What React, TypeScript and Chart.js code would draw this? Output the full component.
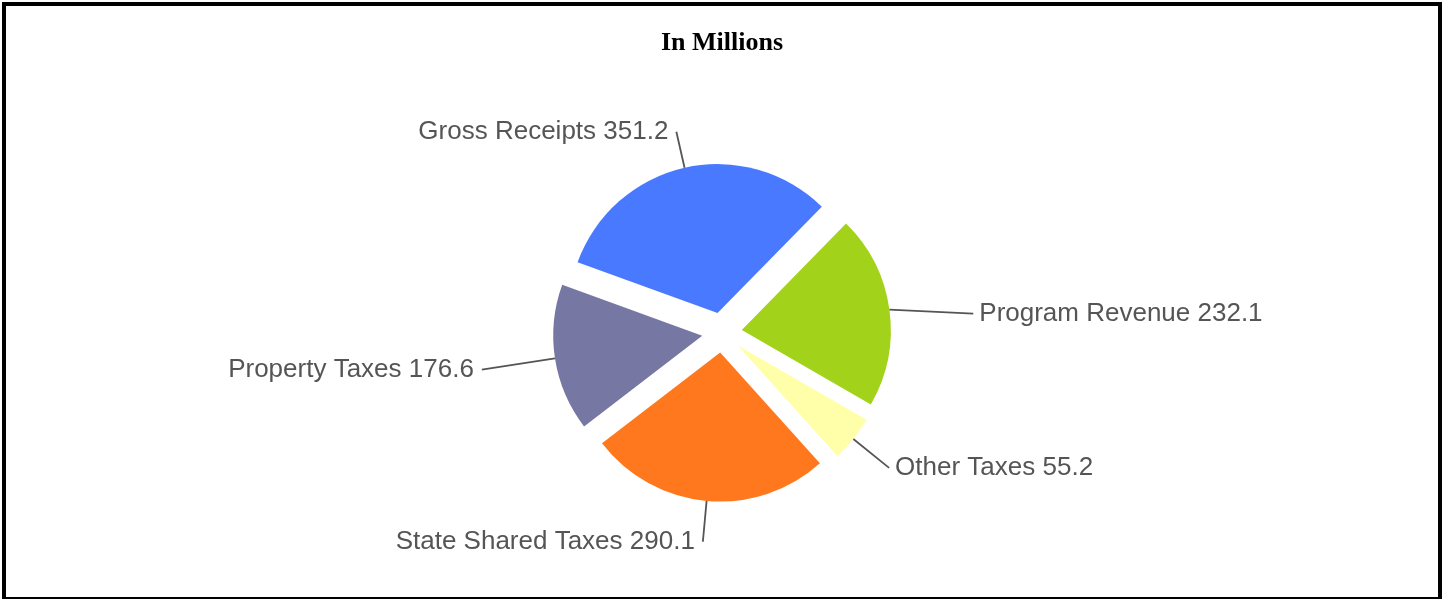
import { useEffect, useRef } from "react";
import { Chart, ArcElement, PieController, Title } from "chart.js";

const TITLE = "In Millions";
const CATEGORIES = ["Gross Receipts", "Program Revenue", "Other Taxes", "State Shared Taxes", "Property Taxes"];
const VALUES = [351.2, 232.1, 55.2, 290.1, 176.6];
const COLORS = ["#4979FF", "#A3D21A", "#FFFFAA", "#FF781D", "#7777A3"];
// label layout settings: leader line length beyond the slice edge (px) and angular shift (deg)
const LEADER_LENGTHS = [37, 83, 46, 41, 74];
const LEADER_SHIFTS = [0, 3.5, 0, 0, 0];
const EXPLODE = 20;

Chart.register(PieController, ArcElement, Title);

const proto: any = ArcElement.prototype;
if (!proto.__exploded) {
  proto.__exploded = true;
  const baseDraw = proto.draw;
  proto.draw = function (ctx: CanvasRenderingContext2D) {
    const half = (this.startAngle + this.endAngle) / 2;
    ctx.save();
    ctx.translate(Math.cos(half) * EXPLODE, Math.sin(half) * EXPLODE);
    baseDraw.call(this, ctx);
    ctx.restore();
  };
}

const leaderLabels = {
  id: "leaderLabels",
  afterDatasetsDraw(chart: any) {
    const ctx: CanvasRenderingContext2D = chart.ctx;
    const meta = chart.getDatasetMeta(0);
    ctx.save();
    ctx.font = '26px "Liberation Sans", Arial, sans-serif';
    ctx.textBaseline = "middle";
    meta.data.forEach((el: any, i: number) => {
      const mid = (el.startAngle + el.endAngle) / 2;
      const endAng = mid + (LEADER_SHIFTS[i] * Math.PI) / 180;
      const r0 = el.outerRadius + EXPLODE;
      const r1 = r0 + LEADER_LENGTHS[i];
      const sx = el.x + Math.cos(mid) * r0;
      const sy = el.y + Math.sin(mid) * r0;
      const ex = el.x + Math.cos(endAng) * r1;
      const ey = el.y + Math.sin(endAng) * r1;
      ctx.strokeStyle = "#555555";
      ctx.lineWidth = 1.8;
      ctx.beginPath();
      ctx.moveTo(sx, sy);
      ctx.lineTo(ex, ey);
      ctx.stroke();
      const text = `${CATEGORIES[i]} ${VALUES[i].toFixed(1)}`;
      ctx.fillStyle = "#555555";
      if (ex < el.x) {
        ctx.textAlign = "right";
        ctx.fillText(text, ex - 8, ey);
      } else {
        ctx.textAlign = "left";
        ctx.fillText(text, ex + 6, ey);
      }
    });
    ctx.restore();
  },
};

export default function App() {
  const ref = useRef<HTMLCanvasElement | null>(null);
  useEffect(() => {
    if (!ref.current) return;
    const chart = new Chart(ref.current, {
      type: "pie",
      data: {
        labels: CATEGORIES,
        datasets: [
          {
            data: VALUES,
            backgroundColor: COLORS,
            borderWidth: 0,
            radius: 149,
          } as any,
        ],
      },
      options: {
        animation: false,
        responsive: false,
        maintainAspectRatio: false,
        rotation: -70,
        layout: { padding: { left: 0, right: 1, top: 0, bottom: 0 } },
        plugins: {
          legend: { display: false },
          tooltip: { enabled: false },
          title: {
            display: true,
            text: TITLE,
            color: "#000",
            font: { family: '"Liberation Serif", "Times New Roman", serif', size: 26, weight: "bold" },
            padding: { top: 28, bottom: 7 },
          },
        },
      } as any,
      plugins: [leaderLabels],
    });
    return () => chart.destroy();
  }, []);
  return (
    <div style={{ position: "fixed", left: 0, top: 0, width: 1445, height: 599, background: "#fff" }}>
      <canvas ref={ref} width={1445} height={599} style={{ position: "absolute", left: 0, top: 0, width: 1445, height: 599 }} />
      <div
        style={{
          position: "absolute",
          left: 2,
          top: 2,
          width: 1440,
          height: 599,
          boxSizing: "border-box",
          border: "4px solid #000",
          pointerEvents: "none",
        }}
      />
    </div>
  );
}
